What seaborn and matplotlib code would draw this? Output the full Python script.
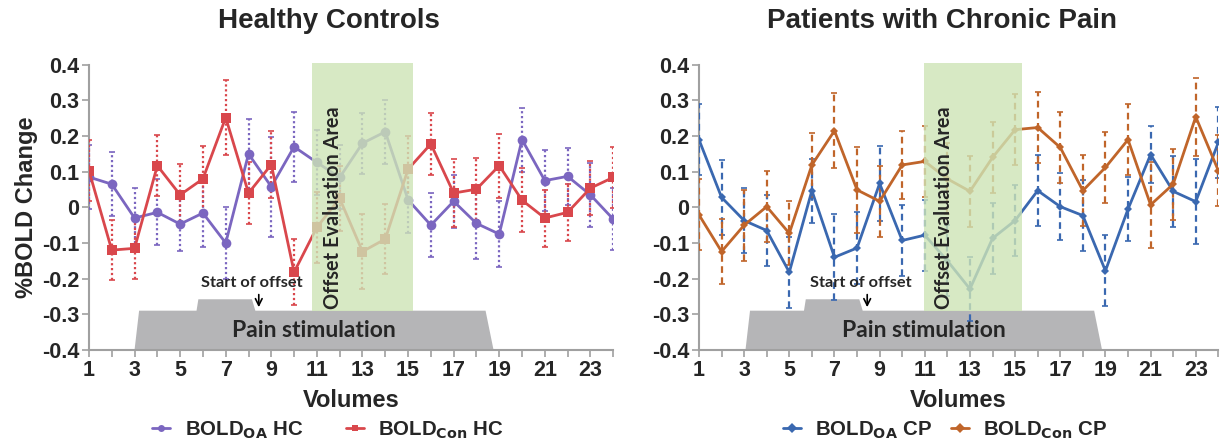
import numpy as np
import pandas as pd
import matplotlib
matplotlib.use("Agg")
import matplotlib.pyplot as plt
import seaborn as sns
from matplotlib.patches import Polygon, Rectangle
from matplotlib.lines import Line2D

# dados
volumes = list(range(1, 25))

oa_hc = [0.085, 0.065, -0.03, -0.014, -0.047, -0.016, -0.10, 0.15, 0.058, 0.17, 0.126, 0.084,
         0.18, 0.212, 0.021, -0.05, 0.017, -0.045, -0.075, 0.19, 0.075, 0.087, 0.035, -0.033]
con_hc = [0.103, -0.12, -0.115, 0.117, 0.035, 0.08, 0.252, 0.04, 0.12, -0.182, -0.056, 0.025,
          -0.124, -0.089, 0.107, 0.178, 0.04, 0.051, 0.117, 0.02, -0.03, -0.014, 0.054, 0.084]
oa_hc_err = [0.09, 0.09, 0.085, 0.093, 0.075, 0.095, 0.10, 0.098, 0.14, 0.098, 0.09, 0.09,
             0.086, 0.09, 0.094, 0.09, 0.075, 0.10, 0.093, 0.09, 0.085, 0.08, 0.09, 0.087]
con_hc_err = [0.085, 0.085, 0.085, 0.085, 0.087, 0.093, 0.105, 0.087, 0.095, 0.093, 0.1, 0.09,
              0.105, 0.098, 0.094, 0.088, 0.095, 0.087, 0.09, 0.09, 0.08, 0.08, 0.075, 0.085]

oa_cp = [0.19, 0.028, -0.037, -0.065, -0.182, 0.047, -0.14, -0.114, 0.067, -0.093, -0.078, -0.15,
         -0.229, -0.087, -0.037, 0.047, 0.002, -0.023, -0.178, -0.005, 0.148, 0.045, 0.016, 0.182]
con_cp = [-0.021, -0.124, -0.05, 0.002, -0.073, 0.119, 0.215, 0.049, 0.017, 0.119, 0.129, 0.08,
          0.045, 0.14, 0.218, 0.224, 0.168, 0.047, 0.112, 0.19, 0.007, 0.065, 0.254, 0.103]
oa_cp_err = [0.1, 0.105, 0.09, 0.1, 0.1, 0.09, 0.12, 0.1, 0.105, 0.1, 0.1, 0.1,
             0.09, 0.1, 0.1, 0.1, 0.095, 0.1, 0.1, 0.09, 0.08, 0.1, 0.12, 0.1]
con_cp_err = [0.1, 0.09, 0.1, 0.1, 0.09, 0.09, 0.105, 0.12, 0.1, 0.095, 0.1, 0.1,
              0.1, 0.1, 0.1, 0.1, 0.1, 0.1, 0.1, 0.1, 0.12, 0.1, 0.11, 0.1]

sns.set_theme(style="white")
plt.rcParams['font.family'] = ['Liberation Sans', 'DejaVu Sans']

fig = plt.figure(figsize=(12.22, 4.44), dpi=100)
ax1 = fig.add_axes([0.0728, 0.212, 0.429, 0.642])
ax2 = fig.add_axes([0.572, 0.212, 0.425, 0.642])

paineis = [
    (ax1, "Healthy Controls", 0.458,
     [("BOLD$_{\\mathbf{OA}}$ HC", oa_hc, oa_hc_err, "#7b66c0", "o"),
      ("BOLD$_{\\mathbf{Con}}$ HC", con_hc, con_hc_err, "#d9474c", "s")],
     (0, (1, 1.2)), (10.8, 15.2), (3.0, 5.72, 8.15, 18.4, 18.75), 328 / 1222, 2.1),
    (ax2, "Patients with Chronic Pain", 0.468,
     [("BOLD$_{\\mathbf{OA}}$ CP", oa_cp, oa_cp_err, "#3a68b0", "D"),
      ("BOLD$_{\\mathbf{Con}}$ CP", con_cp, con_cp_err, "#c0652a", "D")],
     (0, (3, 2)), (10.95, 15.3), (3.06, 5.65, 8.1, 18.5, 18.85), 945 / 1222, 0.9),
]

for ax, titulo, tx, series, estilo_erro, verde, cinza, lx, espaco in paineis:
    handles = []
    for nome, vals, errs, cor, mk in series:
        df = pd.DataFrame({"Volumes": volumes, "valor": vals})
        ms = 7 if mk in ("s", "o") else 4
        sns.lineplot(data=df, x="Volumes", y="valor", ax=ax, color=cor, marker=mk,
                     markersize=ms, markeredgewidth=0, linewidth=2, zorder=4)
        eb = ax.errorbar(volumes, vals, yerr=errs, fmt="none", ecolor=cor, elinewidth=1.6,
                         capsize=2, capthick=1.2, zorder=3)
        for lc in eb[2]:
            lc.set_linestyle(estilo_erro)
        handles.append(Line2D([0], [0], color=cor, marker=mk, markersize=5, lw=2,
                              markeredgewidth=0, label=nome))

    # estímulo de dor (forma cinza)
    a, b, c, d, e = cinza
    pts = [(a, -0.4), (a + 0.2, -0.29), (b, -0.29), (b + 0.08, -0.258), (c, -0.258),
           (c + 0.15, -0.29), (d, -0.29), (e, -0.4)]
    ax.add_patch(Polygon(pts, closed=True, facecolor="#b5b5b7", edgecolor="none", zorder=2))
    ax.text((a + e) / 2, -0.345, "Pain stimulation", fontsize=16.5, family="Lato",
            fontweight="bold", ha="center", va="center", zorder=6)
    ax.text(8.15, -0.213, "Start of offset", fontsize=11.8, family="Lato", fontweight="bold",
            ha="center", va="center", zorder=6)
    ax.annotate("", xy=(8.45, -0.288), xytext=(8.45, -0.237),
                arrowprops=dict(arrowstyle="->", color="black", lw=1.2), zorder=6)

    # área de avaliação do offset
    ax.add_patch(Rectangle((verde[0], -0.29), verde[1] - verde[0], 0.695, facecolor="#cde4b6",
                           edgecolor="none", alpha=0.8, zorder=5, clip_on=False))
    ax.text(verde[0] + 0.9, -0.285, "Offset Evaluation Area", rotation=90, fontsize=14.3,
            family="Lato", fontweight="bold", ha="center", va="bottom", zorder=6)

    ax.set_xlim(1, 24)
    ax.set_ylim(-0.4, 0.4)
    ax.set_xticks(volumes)
    ax.set_xticklabels([str(v) if v % 2 == 1 else "" for v in volumes])
    yt = np.round(np.arange(-0.4, 0.41, 0.1), 1)
    ax.set_yticks(yt)
    ax.set_yticklabels(["0" if v == 0 else f"{v:.1f}" for v in yt])
    ax.tick_params(axis="both", which="major", direction="out", length=5, width=1.2,
                   color="#a0a0a0", bottom=True, left=True, labelsize=15.5, pad=2)
    for lab in ax.get_xticklabels() + ax.get_yticklabels():
        lab.set_fontweight("bold")
    sns.despine(ax=ax)
    for s in ["left", "bottom"]:
        ax.spines[s].set_color("#a0a0a0")
        ax.spines[s].set_linewidth(1.5)
    ax.set_xlabel("Volumes", fontsize=17, fontweight="bold", labelpad=6)
    ax.set_ylabel("")
    ax.text(tx, 1.154, titulo, transform=ax.transAxes, fontsize=20, fontweight="bold",
            ha="center", va="center")
    fig.legend(handles=handles, loc="center", bbox_to_anchor=(lx, 1 - 430 / 444), ncol=2,
               frameon=False, prop={"weight": "bold", "size": 14.7},
               handlelength=0.9, columnspacing=espaco, handletextpad=0.7)

ax1.set_ylabel("%BOLD Change", fontsize=17, fontweight="bold", labelpad=3)

fig.savefig("out.png", dpi=100)
